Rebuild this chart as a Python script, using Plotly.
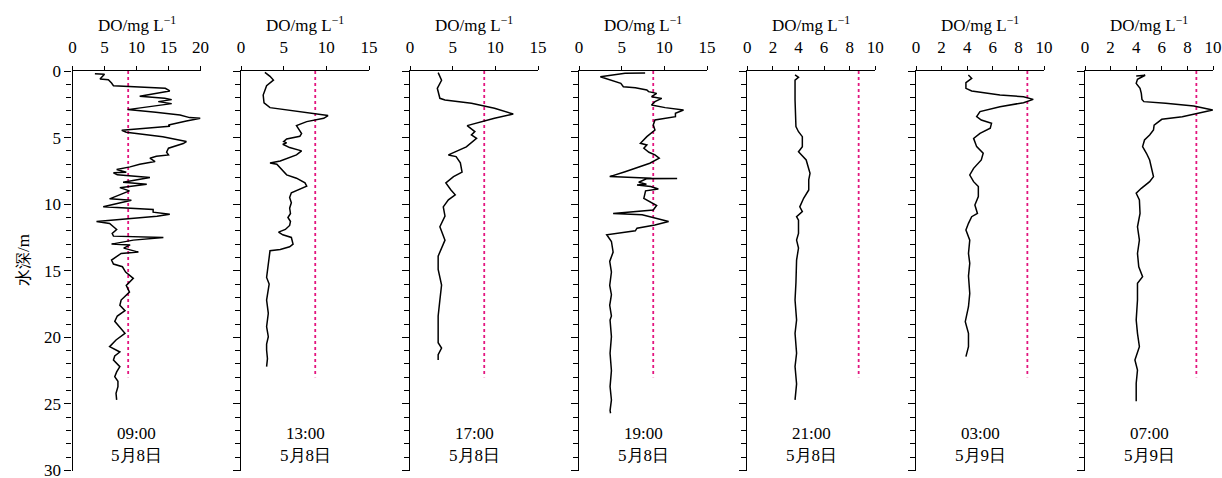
import plotly.graph_objects as go

# ---------------- data (depth in m, DO in mg/L) ----------------
time_labels = ["09:00", "13:00", "17:00", "19:00", "21:00", "03:00", "07:00"]
date_labels = ["5月8日", "5月8日", "5月8日", "5月8日", "5月8日", "5月9日", "5月9日"]
x_max = [20, 15, 15, 15, 10, 10, 10]
x_dtick = [5, 5, 5, 5, 2, 2, 2]
sat_do = 8.7
sat_depth = [0, 23]

depth_0900 = [0.2, 0.25, 0.6, 0.65, 0.9, 1.1, 1.3, 1.5, 1.9, 2.05, 2.15, 2.3, 2.45, 2.85, 2.9, 3.1,
              3.3, 3.5, 3.55, 3.75, 4.05, 4.15, 4.45, 4.6, 4.93, 5.3, 5.45, 5.8, 6.1, 6.3, 6.4, 6.55,
              6.8, 7.0, 7.2, 7.4, 7.6, 7.65, 7.8, 8.0, 8.35, 8.5, 8.56, 8.76, 9.0, 9.1, 9.6, 9.7,
              10.2, 10.4, 10.6, 10.76, 10.9, 11.3, 11.45, 11.7, 11.9, 12.2, 12.4, 12.5, 12.7, 13.0,
              13.06, 13.3, 13.6, 13.7, 14.2, 14.5, 14.7, 15.1, 15.57, 16.1, 16.6, 17.2, 17.6, 18.0,
              18.4, 18.8, 19.2, 19.7, 20.2, 20.7, 21.1, 21.4, 21.7, 22.2, 22.6, 22.95, 23.3, 23.7,
              24.2, 24.7]
do_0900 = [3.5, 5.0, 4.3, 5.6, 6.1, 6.4, 14.5, 15.2, 10.5, 14.4, 15.5, 13.4, 15.5, 9.0, 8.6, 13.0,
           16.8, 18.3, 20.0, 17.8, 15.0, 15.2, 7.7, 8.4, 14.1, 17.8, 17.3, 15.0, 14.7, 15.0, 13.1, 12.1,
           12.9, 10.5, 9.0, 6.9, 8.4, 6.4, 7.0, 12.1, 7.9, 11.6, 10.7, 7.4, 8.9, 8.4, 5.8, 9.2,
           4.8, 12.6, 12.6, 15.2, 13.2, 3.75, 5.8, 6.4, 6.9, 6.2, 6.4, 14.2, 9.5, 6.1,
           9.0, 8.0, 10.3, 7.6, 6.1, 6.4, 7.8, 8.3, 9.5, 8.4, 8.9, 7.6, 7.4, 8.2,
           7.0, 6.6, 7.3, 8.2, 6.8, 5.8, 7.4, 6.6, 6.4, 7.4, 6.9, 6.6, 7.1, 7.1,
           6.8, 6.9]

depth_1300 = [0.1, 0.4, 0.68, 1.1, 1.8, 2.4, 2.75, 3.0, 3.2, 3.35, 3.55, 3.8, 4.1, 4.7, 4.9, 5.1,
              5.3, 5.4, 5.5, 5.75, 6.0, 6.3, 6.76, 6.9, 7.0, 7.4, 7.8, 8.05, 8.4, 8.65, 8.9, 9.15,
              9.5, 9.9, 10.3, 10.7, 11.0, 11.3, 11.6, 11.9, 12.1, 12.3, 12.5, 13.0, 13.2, 13.4, 13.5,
              14.0, 14.7, 15.5, 16.0, 16.5, 17.2, 18.2, 19.2, 19.95, 20.5, 20.95, 21.6, 22.2]
do_1300 = [2.8, 3.4, 3.8, 3.0, 2.6, 2.7, 3.4, 6.5, 8.9, 10.2, 9.7, 7.7, 6.5, 7.1, 6.9, 5.35,
           5.0, 5.35, 4.9, 5.7, 7.1, 6.5, 4.6, 3.4, 4.2, 4.8, 5.35, 6.5, 7.5, 7.7, 6.9, 5.9,
           5.7, 5.9, 5.7, 5.8, 5.5, 5.8, 5.7, 5.2, 4.4, 4.9, 5.9, 6.1, 5.7, 4.6, 3.4,
           3.3, 3.2, 3.0, 3.3, 3.2, 3.0, 3.2, 3.0, 3.2, 3.0, 3.0, 3.1, 3.0]

depth_1700 = [0.12, 0.7, 1.3, 2.05, 2.18, 2.43, 2.8, 3.23, 3.55, 3.93, 4.1, 4.55, 4.8, 5.05, 5.7,
              6.3, 6.43, 6.9, 7.6, 7.93, 8.4, 8.94, 9.3, 9.68, 10.2, 10.9, 11.7, 12.7, 13.9, 14.9,
              16.07, 17.2, 18.4, 19.95, 20.4, 20.8, 21.3, 21.7]
do_1700 = [3.3, 3.7, 3.2, 3.5, 4.1, 7.2, 9.9, 12.1, 9.9, 7.8, 6.7, 7.6, 7.2, 7.8, 6.6,
           4.5, 5.4, 5.9, 6.1, 5.1, 4.2, 4.8, 5.3, 4.5, 3.9, 4.1, 3.5, 4.1, 3.3, 3.3,
           3.7, 3.5, 3.3, 3.3, 3.3, 3.7, 3.3, 3.3]

depth_1900 = [0.15, 0.17, 0.43, 0.8, 0.93, 1.18, 1.25, 1.43, 1.55, 1.68, 1.93, 2.06, 2.3, 2.55, 2.75,
              2.93, 3.18, 3.43, 3.68, 4.05, 4.43, 4.93, 5.43, 5.55, 5.8, 6.1, 6.3, 6.55, 6.93, 7.56,
              7.93, 8.05, 8.07, 8.1, 8.35, 8.5, 8.56, 8.68, 8.86, 9.0, 9.56, 9.76, 10.1, 10.44,
              10.7, 10.8, 11.3, 11.56, 11.8, 12.0, 12.3, 12.8, 13.6, 14.3, 15.1, 16.1, 16.8, 17.6,
              18.4, 18.7, 19.95, 21.2, 22.5, 23.7, 24.7, 25.5, 25.7]
do_1900 = [7.75, 5.4, 2.5, 4.4, 4.9, 5.2, 6.6, 7.95, 8.15, 9.1, 8.5, 9.7, 8.9, 8.5, 10.1,
           12.25, 11.3, 11.3, 8.9, 8.7, 8.9, 7.95, 7.2, 7.95, 7.6, 8.2, 8.9, 9.4, 8.3, 5.4,
           3.6, 8.5, 11.5, 7.9, 7.0, 7.9, 6.8, 8.4, 9.3, 7.8, 7.6, 8.1, 9.1, 8.7,
           4.0, 7.4, 10.5, 8.9, 6.8, 6.6, 3.25, 3.8, 4.0, 3.6, 3.8, 3.6, 3.8, 3.6,
           3.8, 3.64, 3.8, 3.64, 3.8, 3.64, 3.8, 3.64, 3.7]

depth_2100 = [0.3, 0.47, 0.68, 2.18, 4.18, 4.56, 4.93, 5.68, 6.06, 6.68, 7.68, 8.18, 8.93, 9.56,
              10.2, 10.56, 10.94, 11.2, 12.2, 12.7, 13.3, 14.2, 15.9, 17.2, 18.7, 19.7, 21.2,
              22.2, 23.5, 24.7]
do_2100 = [3.73, 4.0, 3.73, 3.73, 3.8, 4.0, 4.3, 4.3, 4.0, 4.6, 4.9, 4.8, 4.8, 4.4,
           4.1, 4.3, 3.85, 4.0, 4.0, 3.85, 4.0, 3.85, 3.8, 3.73, 3.85, 3.73, 3.85,
           3.73, 3.85, 3.73]

depth_0300 = [0.3, 0.55, 0.88, 1.3, 1.5, 1.8, 1.93, 2.13, 2.38, 2.68, 3.05, 3.43, 3.68, 3.93, 4.3,
              4.68, 5.06, 5.68, 6.18, 6.68, 7.31, 7.81, 8.31, 8.68, 9.43, 10.06, 10.7, 10.94,
              11.44, 11.94, 12.7, 13.7, 14.44, 15.4, 16.7, 17.7, 18.82, 19.7, 20.7, 21.45]
do_0300 = [4.09, 4.35, 3.9, 3.9, 4.35, 6.56, 8.4, 9.16, 8.4, 6.56, 5.0, 4.74, 5.1, 5.9, 5.8,
           5.0, 4.5, 4.74, 5.25, 5.1, 4.5, 4.2, 4.5, 4.87, 4.87, 4.6, 4.8, 4.35,
           4.1, 3.9, 4.2, 4.1, 4.2, 4.1, 4.2, 4.1, 3.85, 4.1, 4.1, 3.9]

depth_0700 = [0.37, 0.32, 0.63, 0.93, 1.3, 1.68, 2.13, 2.3, 2.43, 2.63, 2.93, 3.43, 3.63, 4.06,
              4.43, 4.8, 5.18, 5.68, 6.18, 6.68, 7.93, 8.31, 8.81, 9.18, 9.68, 10.7, 11.7, 12.7,
              13.7, 14.7, 15.44, 15.94, 17.2, 18.7, 19.7, 20.7, 21.7, 22.45, 23.45, 24.7, 24.8]
do_0700 = [4.0, 4.7, 4.1, 4.0, 4.3, 4.4, 4.45, 4.6, 6.3, 8.5, 9.98, 7.6, 6.0, 5.4,
           5.35, 5.05, 4.65, 4.5, 4.8, 5.05, 5.35, 5.05, 4.4, 4.0, 4.25, 4.3, 4.1, 4.25,
           4.1, 4.2, 4.5, 4.1, 4.1, 4.0, 4.1, 4.25, 3.9, 4.1, 4.0, 4.0, 4.0]

depths = [depth_0900, depth_1300, depth_1700, depth_1900, depth_2100, depth_0300, depth_0700]
dos = [do_0900, do_1300, do_1700, do_1900, do_2100, do_0300, do_0700]

# ---------------- layout geometry ----------------
W, H = 1222, 478
panel_left_px = [72.5, 241, 410, 579, 747.3, 916, 1085]
panel_w_px = 128
y_top_px, y_bot_px = 71, 470.5

SERIF = "Liberation Serif"

fig = go.Figure()
annotations = []

for i in range(7):
    ax = "" if i == 0 else str(i + 1)
    xa, ya = "x" + ax, "y" + ax
    # saturation reference line
    fig.add_trace(go.Scatter(x=[sat_do] * len(sat_depth), y=sat_depth, mode="lines",
                             line=dict(color="#E3157F", width=1.8, dash="dot"),
                             xaxis=xa, yaxis=ya, showlegend=False, hoverinfo="skip"))
    # DO profile
    fig.add_trace(go.Scatter(x=dos[i], y=depths[i], mode="lines",
                             line=dict(color="black", width=1.5),
                             xaxis=xa, yaxis=ya, showlegend=False))
    x0 = panel_left_px[i] / W
    x1 = (panel_left_px[i] + panel_w_px) / W
    fig.update_layout(**{
        "xaxis" + ax: dict(domain=[x0, x1], range=[0, x_max[i]], side="top", anchor=ya,
                           dtick=x_dtick[i], tick0=0, ticks="outside", ticklen=4, tickwidth=1.2,
                           tickcolor="black", showline=True, linecolor="black", linewidth=1.2,
                           showgrid=False, zeroline=False, automargin=False,
                           ticklabelstandoff=6, ticklabeloverflow="allow",
                           tickfont=dict(family=SERIF, size=17, color="black")),
        "yaxis" + ax: dict(domain=[1 - y_bot_px / H, 1 - y_top_px / H], range=[30, 0],
                           anchor=xa, dtick=5, tick0=0, ticks="outside", ticklen=7, tickwidth=1.2,
                           tickcolor="black", showline=True, linecolor="black", linewidth=1.2,
                           showgrid=False, zeroline=False, automargin=False,
                           showticklabels=(i == 0), ticklabeloverflow="allow",
                           minor=dict(dtick=1, ticks="outside", ticklen=5, tickwidth=1.2,
                                      tickcolor="black", showgrid=False),
                           tickfont=dict(family=SERIF, size=17, color="black")),
    })
    cx = (panel_left_px[i] + panel_w_px / 2) / W
    annotations.append(dict(text="DO/mg L<sup>−1</sup>", x=cx, y=1 - 24 / H, xref="paper",
                            yref="paper", showarrow=False, xanchor="center", yanchor="middle",
                            font=dict(family=SERIF, size=17, color="black")))
    annotations.append(dict(text=time_labels[i], x=cx, y=1 - 433 / H, xref="paper",
                            yref="paper", showarrow=False, xanchor="center", yanchor="middle",
                            font=dict(family=SERIF, size=17, color="black")))
    annotations.append(dict(text=date_labels[i], x=cx, y=1 - 455 / H, xref="paper",
                            yref="paper", showarrow=False, xanchor="center", yanchor="middle",
                            font=dict(family=SERIF, size=17, color="black")))

annotations.append(dict(text="水深/m", x=23 / W, y=1 - 260 / H, xref="paper", yref="paper",
                        showarrow=False, textangle=-90, xanchor="center", yanchor="middle",
                        font=dict(family=SERIF, size=17, color="black")))

fig.update_layout(width=W, height=H, margin=dict(l=0, r=0, t=0, b=0),
                  plot_bgcolor="white", paper_bgcolor="white",
                  annotations=annotations, showlegend=False)

fig.write_html("out.html")
